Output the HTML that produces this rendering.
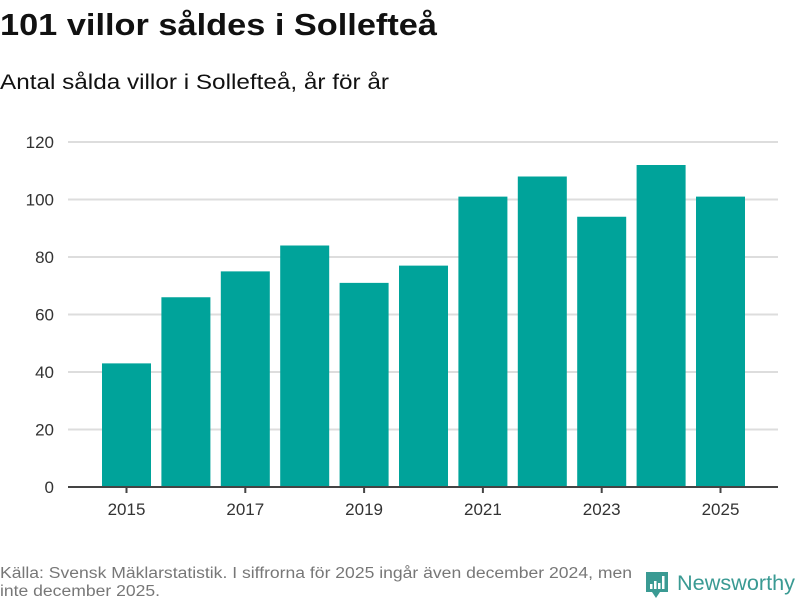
<!DOCTYPE html>
<html><head><meta charset="utf-8"><style>
body{margin:0;background:#fff;}
svg{display:block;font-family:"Liberation Sans","DejaVu Sans",sans-serif;}
</style></head><body>
<svg id="chart" width="800" height="600" viewBox="0 0 800 600">
<text x="0" y="35" font-size="31" font-weight="bold" fill="#111" textLength="437" lengthAdjust="spacingAndGlyphs">101 villor såldes i Sollefteå</text>
<text x="0" y="89" font-size="21" fill="#111" textLength="389" lengthAdjust="spacingAndGlyphs">Antal sålda villor i Sollefteå, år för år</text>
<g id="grid"></g>
<g id="bars"></g>
<g id="axes"></g>
<text x="0" y="578" font-size="15.5" fill="#777" textLength="632" lengthAdjust="spacingAndGlyphs">Källa: Svensk Mäklarstatistik. I siffrorna för 2025 ingår även december 2024, men</text>
<text x="0" y="596" font-size="15.5" fill="#777" textLength="160" lengthAdjust="spacingAndGlyphs">inte december 2025.</text>
<g>
<path d="M646 572 h22 v20 h-8 l-4 6 l-4 -6 h-6 z" fill="#3a9a93"/>
<rect x="650" y="584" width="2.5" height="5" fill="#fff"/>
<rect x="654" y="581" width="2.5" height="8" fill="#fff"/>
<rect x="658" y="583" width="2.5" height="6" fill="#fff"/>
<rect x="662" y="576" width="2.5" height="13" fill="#fff"/>
<text x="677" y="590" font-size="21" fill="#3a9a93" textLength="118" lengthAdjust="spacingAndGlyphs">Newsworthy</text>
</g>
</svg>
<script>
const years=[2015,2016,2017,2018,2019,2020,2021,2022,2023,2024,2025];
const values=[43,66,75,84,71,77,101,108,94,112,101];
const yTicks=[0,20,40,60,80,100,120];
const xTickLabels=[2015,2017,2019,2021,2023,2025];
const NS='http://www.w3.org/2000/svg';
const x0=68,x1=778,y0=487,y1=142,yMax=120;
const step=59.4,bw=49,first=126.5;
function y(v){return y0-(v/yMax)*(y0-y1);}
function xc(yr){return first+(yr-years[0])*step;}
function mk(t,a,p){const e=document.createElementNS(NS,t);for(const k in a)e.setAttribute(k,a[k]);p.appendChild(e);return e;}
const grid=document.getElementById('grid'),bars=document.getElementById('bars'),axes=document.getElementById('axes');
yTicks.forEach(t=>{
  if(t>0){const l=mk('line',{x1:x0,x2:x1,y1:y(t),y2:y(t),stroke:'#ddd','stroke-width':2},grid);
  
  }
  const tx=mk('text',{x:54,y:y(t)+6,'font-size':17,fill:'#333','text-anchor':'end'},axes);
  tx.textContent=t;
  
  
});
years.forEach((yr,i)=>{
  const r=mk('rect',{x:xc(yr)-bw/2,y:y(values[i]),width:bw,height:y0-y(values[i]),fill:'#00a39a'},bars);
  
  
});
const ax=mk('line',{x1:x0,x2:x1,y1:y0,y2:y0,stroke:'#444','stroke-width':2},axes);


xTickLabels.forEach(yr=>{
  const tk=mk('line',{x1:xc(yr),x2:xc(yr),y1:y0,y2:y0+6,stroke:'#444','stroke-width':2},axes);
  
  
  const tx=mk('text',{x:xc(yr),y:y0+28,'font-size':17,fill:'#333','text-anchor':'middle'},axes);
  tx.textContent=yr;
  
  
});
</script>
</body></html>
